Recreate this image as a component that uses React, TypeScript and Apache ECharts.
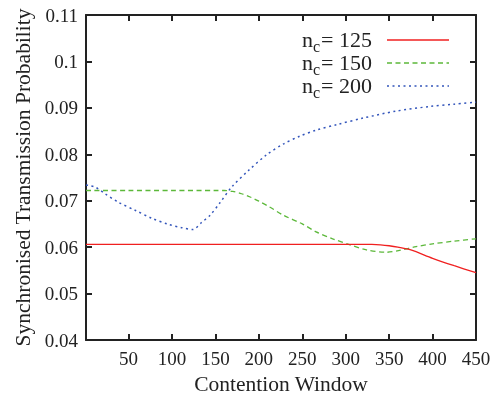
import React, { useEffect, useRef } from "react";
import * as echarts from "echarts";

const xTicks = [50, 100, 150, 200, 250, 300, 350, 400, 450];
const yTicks = [0.04, 0.05, 0.06, 0.07, 0.08, 0.09, 0.1, 0.11];

const redX = [1, 50, 100, 150, 200, 250, 300, 330, 340, 350, 360, 375, 400, 425, 450];
const redY = [0.0606, 0.0606, 0.0606, 0.0606, 0.0606, 0.0606, 0.0606, 0.0606, 0.0605, 0.0603, 0.06, 0.0594, 0.0576, 0.056, 0.0545];

const greenX = [1, 50, 100, 150, 160, 170, 180, 190, 200, 212, 228, 250, 266, 285, 305, 324, 347, 362, 381, 400, 425, 450];
const greenY = [0.0722, 0.0722, 0.0722, 0.0722, 0.0722, 0.072, 0.0715, 0.0708, 0.0699, 0.0687, 0.0669, 0.065, 0.0633, 0.0618, 0.0605, 0.0594, 0.0589, 0.0593, 0.0601, 0.0607, 0.0613, 0.0618];

const blueX = [1, 4, 12, 23, 38, 58, 77, 96, 111, 124, 134, 144, 155, 169, 188, 209, 228, 247, 266, 290, 320, 358, 397, 425, 450];
const blueY = [0.0734, 0.0733, 0.0729, 0.0715, 0.0697, 0.0679, 0.0662, 0.0649, 0.0642, 0.0638, 0.0653, 0.0669, 0.0695, 0.073, 0.0765, 0.0799, 0.0822, 0.0839, 0.0852, 0.0864, 0.0878, 0.0893, 0.0903, 0.0908, 0.0912];

const seriesNames = ["125", "150", "200"];
const seriesColors = ["#f02020", "#5cb83a", "#3355bb"];
const seriesDash: (number[] | null)[] = [null, [5, 3.5], [2, 3.5]];

const FONT = "Liberation Serif, Times New Roman, serif";
const INK = "#222";

function zip(xs: number[], ys: number[]) {
  return xs.map((x, i) => [x, ys[i]]);
}

export default function App() {
  const ref = useRef<HTMLDivElement>(null);
  useEffect(() => {
    if (!ref.current) return;
    const chart = echarts.init(ref.current, undefined, { renderer: "svg" });
    const datas = [zip(redX, redY), zip(greenX, greenY), zip(blueX, blueY)];
    const xCommon = {
      type: "value" as const,
      min: 1,
      max: 450,
      splitLine: { show: false },
      axisLine: { show: true, onZero: false, lineStyle: { color: INK, width: 2 } },
      axisTick: { show: true, inside: true, length: 6, customValues: xTicks, lineStyle: { color: INK, width: 2 } },
    };
    const yCommon = {
      type: "value" as const,
      min: 0.04,
      max: 0.11,
      splitLine: { show: false },
      axisLine: { show: true, onZero: false, lineStyle: { color: INK, width: 2 } },
      axisTick: { show: true, inside: true, length: 6, customValues: yTicks, lineStyle: { color: INK, width: 2 } },
    };
    const legendGraphics: any[] = [];
    seriesNames.forEach((name, i) => {
      const cy = 40 + i * 23;
      legendGraphics.push({
        type: "text",
        right: 499 - 372,
        top: cy - 12,
        style: {
          text: `{a|n}{b|c}{a|= ${name}}`,
          textAlign: "right",
          rich: {
            a: { fontFamily: FONT, fontSize: 22, fill: INK, lineHeight: 30, verticalAlign: "middle" },
            b: { fontFamily: FONT, fontSize: 16, fill: INK, lineHeight: 14, verticalAlign: "bottom", padding: [0, 1, 0, 0] },
          },
        },
      });
      legendGraphics.push({
        type: "line",
        shape: { x1: 387, y1: cy, x2: 449, y2: cy },
        style: { stroke: seriesColors[i], lineWidth: 1.3, lineDash: seriesDash[i] || undefined },
      });
    });
    chart.setOption({
      animation: false,
      grid: { left: 86, right: 23, top: 15, bottom: 57, containLabel: false },
      xAxis: [
        {
          ...xCommon,
          position: "bottom",
          name: "Contention Window",
          nameLocation: "middle",
          nameGap: 33,
          nameTextStyle: { fontFamily: FONT, fontSize: 21.5, color: INK },
          axisLabel: { show: true, margin: 9, customValues: xTicks, fontFamily: FONT, fontSize: 19, color: INK },
        },
        { ...xCommon, position: "top", axisLabel: { show: false } },
      ],
      yAxis: [
        {
          ...yCommon,
          position: "left",
          name: "Synchronised Transmission Probability",
          nameLocation: "middle",
          nameGap: 51,
          nameTextStyle: { fontFamily: FONT, fontSize: 21.5, color: INK },
          axisLabel: {
            show: true,
            margin: 8,
            customValues: yTicks,
            fontFamily: FONT,
            fontSize: 19,
            color: INK,
            formatter: (v: number) => String(Math.round(v * 100) / 100),
          },
        },
        { ...yCommon, position: "right", axisLabel: { show: false } },
      ],
      series: datas.map((d, i) => ({
        type: "line",
        name: seriesNames[i],
        data: d,
        xAxisIndex: 0,
        yAxisIndex: 0,
        showSymbol: false,
        symbol: "none",
        smooth: 0.3,
        lineStyle: { color: seriesColors[i], width: i === 2 ? 1.5 : 1.3, type: seriesDash[i] || "solid" },
        z: 3 - i,
      })),
      graphic: legendGraphics,
    });
    return () => chart.dispose();
  }, []);
  return <div ref={ref} style={{ position: "fixed", left: 0, top: 0, width: 499, height: 400 }} />;
}
